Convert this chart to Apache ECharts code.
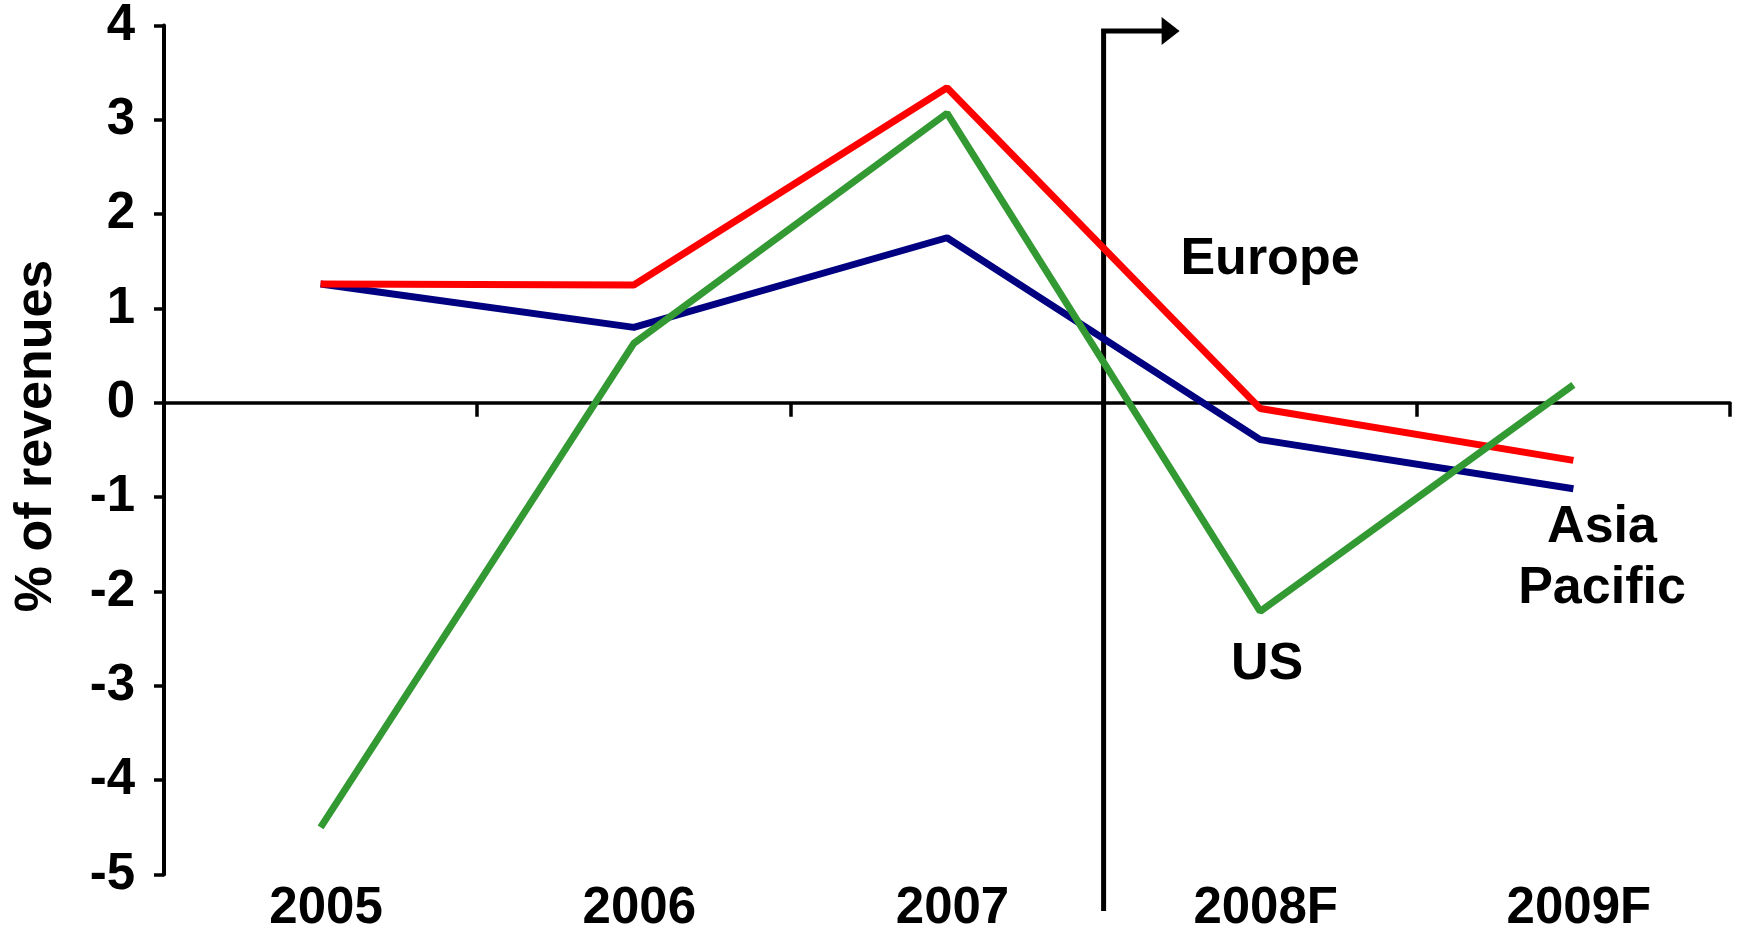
<!DOCTYPE html>
<html>
<head>
<meta charset="utf-8">
<script src="https://cdn.jsdelivr.net/npm/echarts@6/dist/echarts.min.js"></script>
<style>
  html, body { margin: 0; padding: 0; background: #ffffff; }
  #chart { width: 1738px; height: 934px; }
</style>
</head>
<body>
<div id="chart"></div>
<script>
// Categories and series (% of revenues)
const years = ['2005', '2006', '2007', '2008F', '2009F'];
const europe = [1.26, 1.25, 3.34, -0.06, -0.61];
const asiaPacific = [1.26, 0.80, 1.75, -0.39, -0.91];
const us = [-4.50, 0.63, 3.07, -2.21, 0.19];

// Value axis range
const yMin = -5;
const yMax = 4;
const yStep = 1;

const axisFont = 'Liberation Sans, Arial, sans-serif';

const chart = echarts.init(document.getElementById('chart'), null, { renderer: 'canvas' });

const textStyleBold = {
  fontFamily: axisFont,
  fontWeight: 'bold',
  color: '#000'
};

chart.setOption({
  animation: false,
  backgroundColor: '#ffffff',
  grid: { left: 164, right: 8, top: 24, bottom: 47, containLabel: false },
  xAxis: [
    {
      // category labels along the bottom
      type: 'category',
      data: years,
      boundaryGap: true,
      position: 'bottom',
      axisLine: { show: false, onZero: false },
      axisTick: { show: false },
      axisLabel: Object.assign({ fontSize: 51, margin: 9, lineHeight: 50, padding: [0, 0, 0, 11] }, textStyleBold),
      splitLine: { show: false }
    },
    {
      // zero line with the category boundary ticks
      type: 'category',
      data: years,
      boundaryGap: true,
      position: 'bottom',
      axisLine: { show: true, onZero: true, onZeroAxisIndex: 0, lineStyle: { color: '#000', width: 3.5 } },
      axisTick: { show: true, inside: false, length: 14, lineStyle: { color: '#000', width: 3.5 } },
      axisLabel: { show: false },
      splitLine: { show: false }
    }
  ],
  yAxis: {
    type: 'value',
    min: yMin,
    max: yMax,
    interval: yStep,
    axisLine: { show: true, onZero: false, lineStyle: { color: '#000', width: 4 } },
    axisTick: { show: true, inside: false, length: 10, lineStyle: { color: '#000', width: 3.5 } },
    axisLabel: Object.assign({ fontSize: 51, margin: 29 }, textStyleBold),
    splitLine: { show: false }
  },
  series: [
    {
      name: 'Asia Pacific',
      type: 'line',
      xAxisIndex: 0,
      data: asiaPacific,
      symbol: 'none',
      lineStyle: { color: '#000080', width: 7 },
      z: 3
    },
    {
      name: 'Europe',
      type: 'line',
      xAxisIndex: 0,
      data: europe,
      symbol: 'none',
      lineStyle: { color: '#ff0000', width: 7 },
      z: 4
    },
    {
      name: 'US',
      type: 'line',
      xAxisIndex: 0,
      data: us,
      symbol: 'none',
      lineStyle: { color: '#339933', width: 7 },
      z: 5
    }
  ]
});

// Divider between actuals and forecasts, placed at the 2007 / 2008F boundary
const x2007 = chart.convertToPixel({ xAxisIndex: 0 }, '2007');
const x2008 = chart.convertToPixel({ xAxisIndex: 0 }, '2008F');
const xDiv = (x2007 + x2008) / 2;

const labelStyle = {
  fontFamily: axisFont,
  fontWeight: 'bold',
  fontSize: 52,
  fill: '#000',
  textAlign: 'center',
  textVerticalAlign: 'middle'
};

chart.setOption({
  graphic: [
    {
      type: 'polyline',
      z: 1,
      shape: { points: [[xDiv, 911], [xDiv, 31], [xDiv + 60, 31]] },
      style: { stroke: '#000', lineWidth: 5, fill: null }
    },
    {
      type: 'polygon',
      z: 1,
      shape: { points: [[xDiv + 58, 17], [xDiv + 76, 31], [xDiv + 58, 45]] },
      style: { fill: '#000' }
    },
    {
      type: 'text',
      x: 37, y: 436,
      rotation: Math.PI / 2,
      style: Object.assign({}, labelStyle, { text: '% of revenues', fontSize: 52 })
    },
    {
      type: 'text',
      x: 1270, y: 260,
      style: Object.assign({}, labelStyle, { text: 'Europe' })
    },
    {
      type: 'text',
      x: 1267, y: 665,
      style: Object.assign({}, labelStyle, { text: 'US' })
    },
    {
      type: 'text',
      x: 1602, y: 558,
      style: Object.assign({}, labelStyle, { text: 'Asia\nPacific', lineHeight: 61 })
    }
  ]
});
</script>
</body>
</html>
